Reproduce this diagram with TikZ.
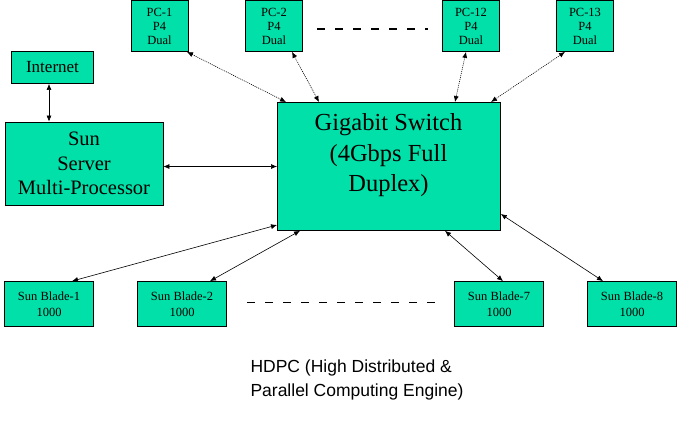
\documentclass[tikz,border=0pt]{standalone}
\usepackage{fontspec}
\setmainfont{Liberation Serif}
\newfontfamily\capfont{Liberation Sans}
\usetikzlibrary{arrows.meta}
\definecolor{boxfill}{RGB}{0,224,168}
\begin{document}
\begin{tikzpicture}[x=1pt,y=-1pt,
  box/.style={draw=black, line width=0.8pt, fill=boxfill, inner sep=0pt, align=center, text=black},
  pcbox/.style={box, minimum width=57pt, minimum height=51pt, font=\fontsize{12.5}{14}\selectfont},
  bladebox/.style={box, minimum width=89pt, minimum height=45pt, font=\fontsize{12.5}{16}\selectfont},
  link/.style={line width=0.6pt, {Latex[length=6pt,width=5pt]}-{Latex[length=6pt,width=5pt]}},
  dlink/.style={link, dash pattern=on 1pt off 1pt},
  gap/.style={line width=1.5pt, dash pattern=on 8pt off 10pt}]
\useasboundingbox (0,0) rectangle (679,421);
% top PCs
\node[pcbox] (pc1) at (159.5,26) {PC-1\\P4\\Dual};
\node[pcbox] (pc2) at (274,26) {PC-2\\P4\\Dual};
\node[pcbox] (pc12) at (471,26) {PC-12\\P4\\Dual};
\node[pcbox] (pc13) at (585,26) {PC-13\\P4\\Dual};
% internet + server
\node[box, minimum width=82pt, minimum height=32pt, font=\fontsize{17}{18}\selectfont] (inet) at (52.5,67.5) {Internet};
\node[box, minimum width=158pt, minimum height=83pt, font=\fontsize{20.5}{24.5}\selectfont] (srv) at (84,163.5) {Sun\\Server\\Multi-Processor};
% switch
\node[box, minimum width=223pt, minimum height=128pt, anchor=north west] (sw) at (277,102) {};
\node[font=\fontsize{24.5}{30.5}\selectfont, align=center, anchor=north] (swt) at (388.5,110) {Gigabit Switch\\(4Gbps Full\\Duplex)};
% blades
\node[bladebox] (b1) at (49,304) {Sun Blade-1\\1000};
\node[bladebox] (b2) at (182,304) {Sun Blade-2\\1000};
\node[bladebox] (b7) at (499,304) {Sun Blade-7\\1000};
\node[bladebox] (b8) at (632,304) {Sun Blade-8\\1000};
% dashes
\coordinate (td1) at (317,29); \coordinate (td2) at (428,29);
\draw[gap] (td1) -- (td2);
\coordinate (bd1) at (247,302.5); \coordinate (bd2) at (440,302.5);
\draw[gap] (bd1) -- (bd2);
% connectors
\draw[link] (inet.south -| 49,0) -- (srv.north -| 49,0);
\draw[link] (srv.east |- 0,166.5) -- (sw.west |- 0,166.5);
\draw[dlink] (pc1.south -| 187,0) -- (sw.north -| 286,0);
\draw[dlink] (pc2.south -| 292,0) -- (sw.north -| 319,0);
\draw[dlink] (pc12.south -| 466,0) -- (sw.north -| 455,0);
\draw[dlink] (pc13.south -| 565,0) -- (sw.north -| 491,0);
\draw[link] (b1.north -| 72,0) -- (sw.west |- 0,225);
\draw[link] (b2.north -| 210,0) -- (sw.south -| 300,0);
\draw[link] (b7.north -| 503,0) -- (sw.south -| 445,0);
\draw[link] (b8.north -| 603,0) -- (sw.east |- 0,214);
% caption
\node[font=\capfont\fontsize{17.5}{24}\selectfont, align=left, anchor=north west] (cap) at (247,356) {HDPC (High Distributed \&\\Parallel Computing Engine)};
\end{tikzpicture}
\end{document}
